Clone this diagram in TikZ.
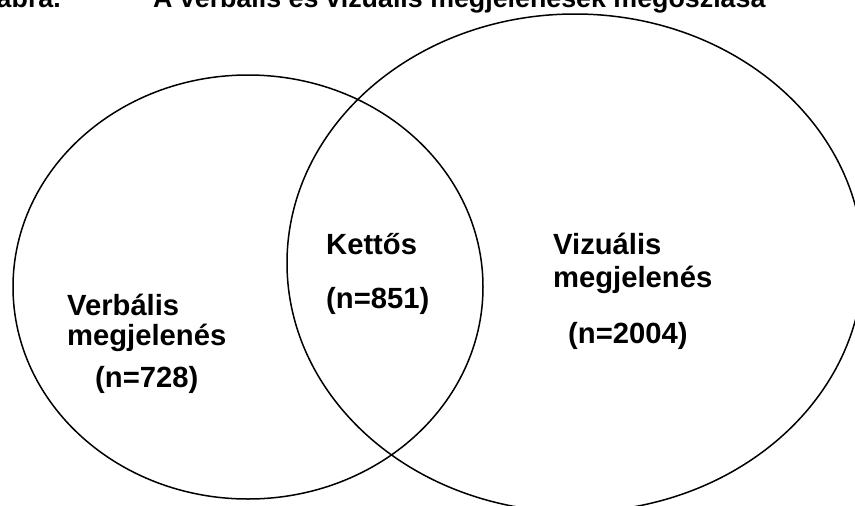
\documentclass[tikz,border=0pt]{standalone}
\usepackage{fontspec}
\setmainfont{Liberation Sans}
\begin{document}
\begin{tikzpicture}[x=1pt,y=-1pt,
  lbl/.style={anchor=base west,inner sep=0pt,font=\fontsize{29.2}{33}\selectfont\bfseries},
  ttl/.style={inner sep=0pt,font=\fontsize{26.8}{31}\selectfont\bfseries},
  venn/.style={draw=black,line width=1.5pt}]
\useasboundingbox (0,0) rectangle (855,506);
\clip (0,0) rectangle (855,506);
\fill[white] (0,0) rectangle (855,506);
\node[ttl,anchor=base east] (t1) at (61,7) {ábra.};
\node[ttl,anchor=base west] (t2) at (153,7) {A verbális és vizuális megjelenések megoszlása};
\draw[venn] (248,287) ellipse [x radius=235, y radius=212];
\draw[venn] (575,263) ellipse [x radius=288, y radius=249];
\node[lbl] (k1) at (326,254) {Kettős};
\node[lbl] (k2) at (326,308) {(n=851)};
\node[lbl] (v1) at (553,254) {Vizuális};
\node[lbl] (v2) at (553,287) {megjelenés};
\node[lbl] (v3) at (568,343) {(n=2004)};
\node[lbl] (b1) at (67,315) {Verbális};
\node[lbl] (b2) at (67,345) {megjelenés};
\node[lbl] (b3) at (95,387) {(n=728)};
\end{tikzpicture}
\end{document}
